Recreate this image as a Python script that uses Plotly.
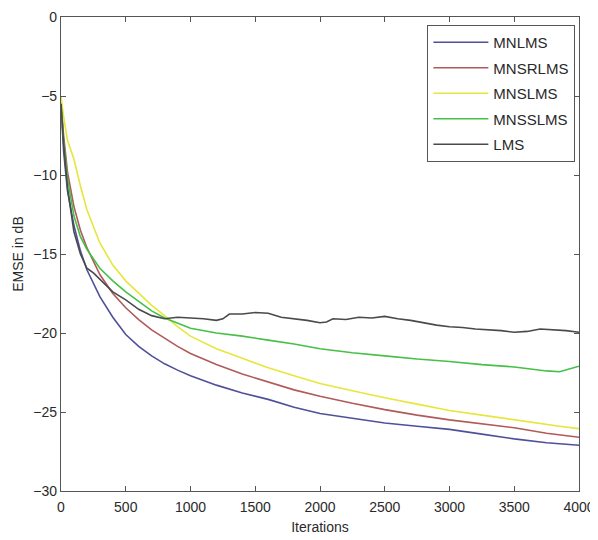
import plotly.graph_objects as go

# iteration grid shared by the adaptive-filter curves
iters = [0, 20, 50, 100, 150, 200, 300, 400, 500, 600, 700, 800, 900, 1000, 1200,
         1400, 1600, 1800, 2000, 2250, 2500, 2750, 3000, 3250, 3500, 3750, 3850, 4000]

mnlms = [-5.5, -8.5, -11.0, -13.2, -14.8, -16.0, -17.7, -19.0, -20.1, -20.85, -21.45, -21.95,
         -22.35, -22.7, -23.3, -23.8, -24.2, -24.7, -25.1, -25.4, -25.7, -25.9, -26.1, -26.4,
         -26.7, -26.95, -27.0, -27.1]
mnsrlms = [-5.3, -7.5, -9.8, -12.0, -13.5, -14.6, -16.3, -17.5, -18.4, -19.15, -19.8, -20.35,
           -20.85, -21.3, -22.0, -22.6, -23.1, -23.6, -24.0, -24.45, -24.85, -25.2, -25.5,
           -25.75, -26.0, -26.35, -26.45, -26.6]
mnslms = [-5.0, -6.3, -7.8, -9.0, -10.7, -12.2, -14.3, -15.7, -16.7, -17.5, -18.25, -18.9,
          -19.6, -20.2, -21.0, -21.6, -22.2, -22.7, -23.2, -23.65, -24.1, -24.5, -24.9, -25.2,
          -25.5, -25.8, -25.9, -26.05]
mnsslms = [-5.5, -7.8, -10.2, -12.6, -13.9, -14.7, -15.9, -16.7, -17.4, -18.0, -18.6, -19.05,
           -19.4, -19.7, -20.0, -20.2, -20.45, -20.7, -21.0, -21.25, -21.45, -21.65, -21.8,
           -22.0, -22.15, -22.4, -22.45, -22.1]

lms_iters = [0, 20, 50, 100, 150, 200, 250, 300, 400, 500, 600, 700, 800, 900, 1000, 1100,
             1200, 1250, 1300, 1400, 1500, 1600, 1700, 1800, 1900, 2000, 2050, 2100, 2200,
             2300, 2400, 2500, 2600, 2700, 2800, 2900, 3000, 3100, 3200, 3300, 3400, 3500,
             3600, 3700, 3800, 3900, 4000]
lms = [-5.5, -8.0, -10.8, -13.6, -15.0, -15.9, -16.2, -16.6, -17.4, -17.9, -18.5, -18.9,
       -19.1, -19.0, -19.05, -19.1, -19.2, -19.1, -18.8, -18.8, -18.7, -18.75, -19.0, -19.1,
       -19.2, -19.35, -19.3, -19.1, -19.15, -19.0, -19.05, -18.95, -19.1, -19.2, -19.35,
       -19.5, -19.6, -19.65, -19.75, -19.8, -19.85, -19.95, -19.9, -19.75, -19.8, -19.85, -19.95]

series = [
    ('MNLMS', iters, mnlms, '#50509a'),
    ('MNSRLMS', iters, mnsrlms, '#b05a5a'),
    ('MNSLMS', iters, mnslms, '#e6e63c'),
    ('MNSSLMS', iters, mnsslms, '#46c046'),
    ('LMS', lms_iters, lms, '#4a4a4a'),
]

fig = go.Figure()
for name, x, y, color in series:
    fig.add_trace(go.Scatter(x=x, y=y, name=name, mode='lines', legendgroup=name,
                             line=dict(color=color, width=1.6)))

axis_style = dict(showline=True, linecolor='#555555', linewidth=1.2, mirror='ticks',
                  ticks='inside', ticklen=5, tickcolor='#555555', showgrid=False,
                  zeroline=False, automargin=False, ticklabeloverflow='allow',
                  tickfont=dict(size=14, color='#2a2a2a'))

# page body adds an 8px offset, so the figure is sized to the visible window
fig.update_layout(
    width=590, height=532,
    margin=dict(l=53, r=19, t=9, b=49),
    paper_bgcolor='white', plot_bgcolor='white',
    font=dict(family='Liberation Sans, Arial, sans-serif', color='#2a2a2a'),
    xaxis=dict(range=[0, 4000], tickvals=[0, 500, 1000, 1500, 2000, 2500, 3000, 3500, 4000],
               ticklabelstandoff=3,
               title=dict(text='Iterations', font=dict(size=14), standoff=8), **axis_style),
    yaxis=dict(range=[-30, 0], tickvals=[0, -5, -10, -15, -20, -25, -30],
               title=dict(text='EMSE in dB', font=dict(size=14), standoff=6), **axis_style),
    legend=dict(x=0.993, y=0.983, xanchor='right', yanchor='top', bgcolor='white',
                bordercolor='#555555', borderwidth=1, font=dict(size=15, color='#2a2a2a'),
                traceorder='grouped', tracegroupgap=3, itemwidth=55),
    showlegend=True,
)

fig.write_html("out.html")
